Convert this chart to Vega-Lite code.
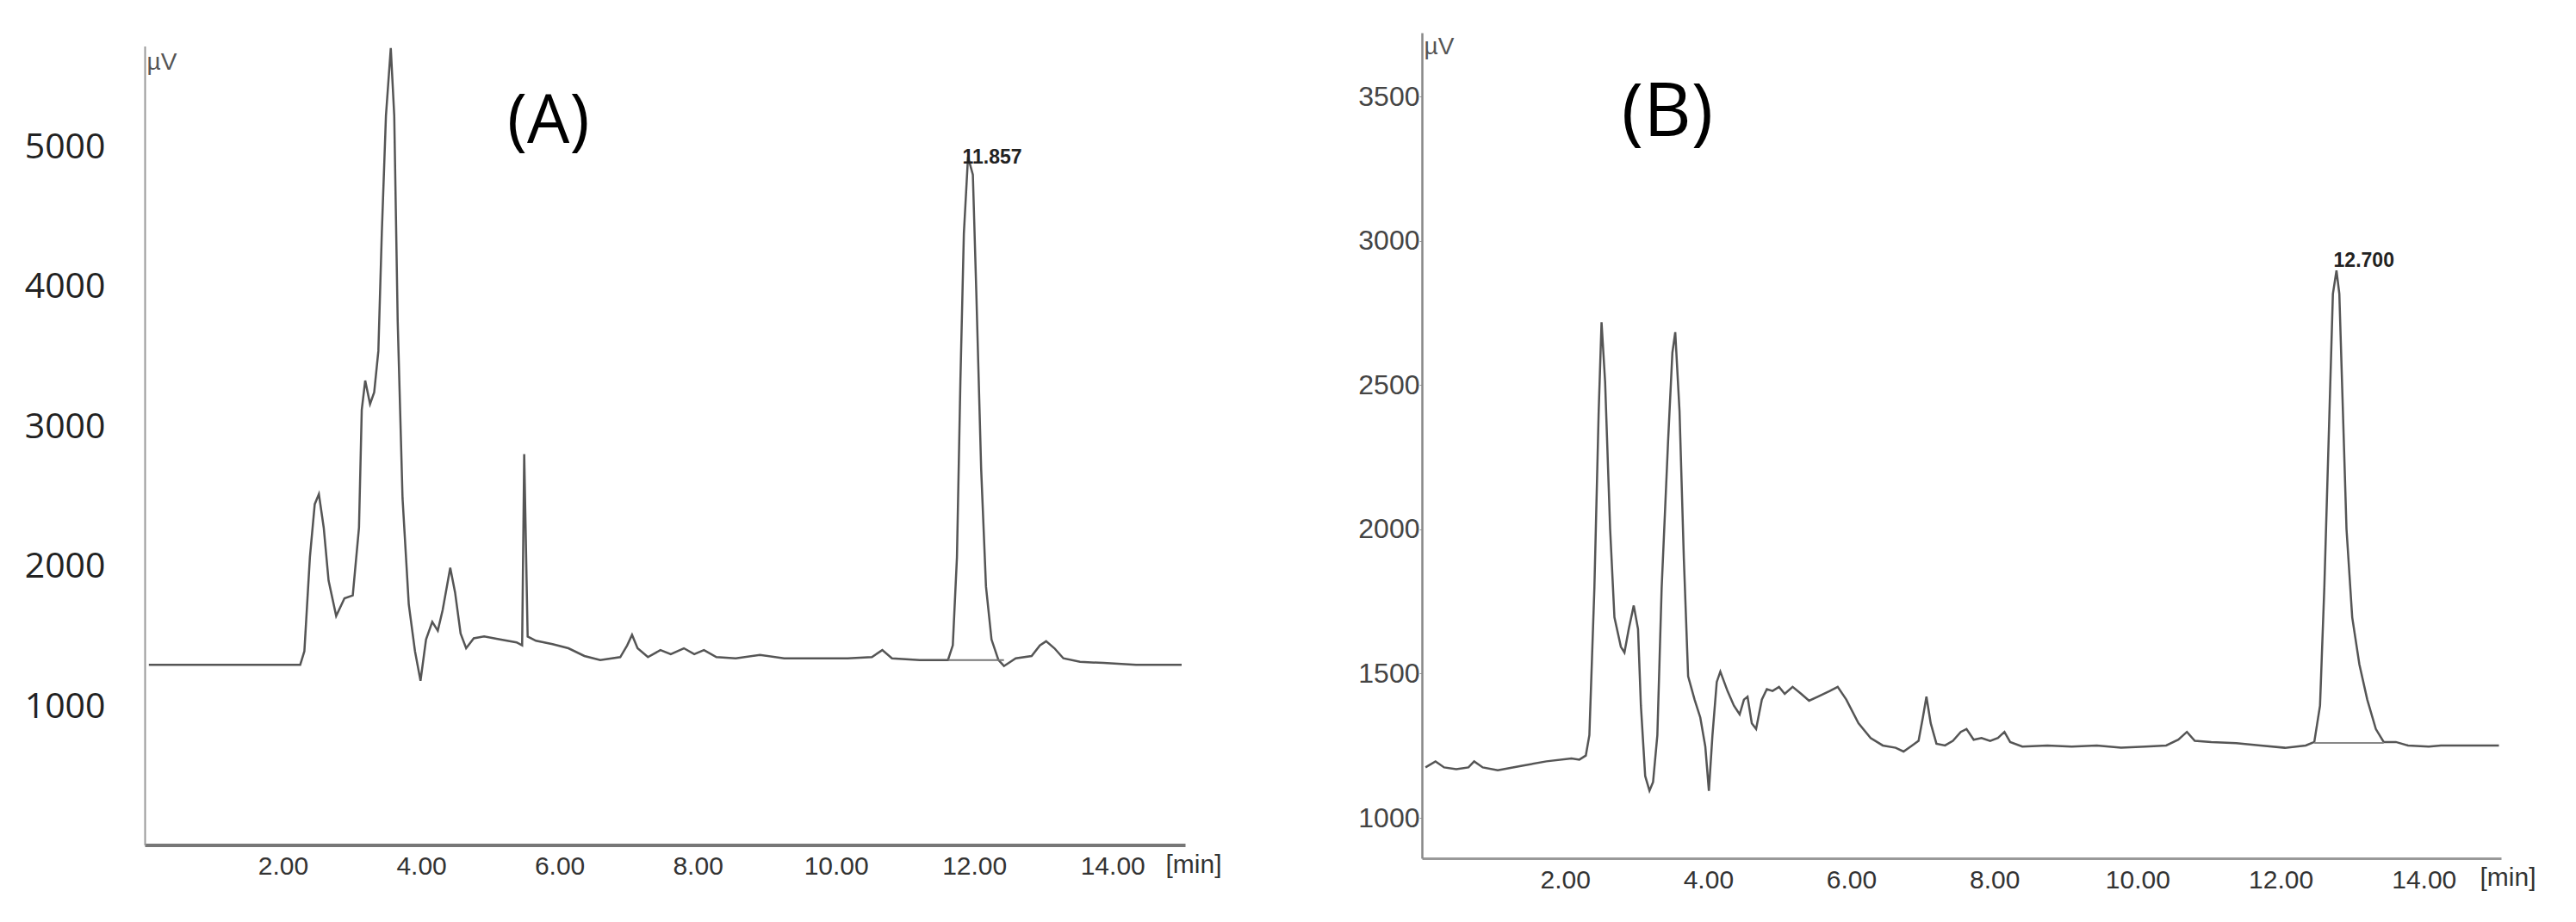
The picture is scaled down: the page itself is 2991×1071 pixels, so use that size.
{
  "$schema": "https://vega.github.io/schema/vega-lite/v6.json",
  "background": "white",
  "padding": {"left": 28, "top": 38, "right": 10, "bottom": 20},
  "bounds": "flush",
  "center": true,
  "spacing": 275,
  "config": {
    "view": {"stroke": null},
    "axis": {"grid": false, "labelOverlap": false, "labelFlush": false}
  },
  "hconcat": [
    {
      "width": 1208,
      "height": 928,
      "layer": [
        {
          "data": {"values": [
            {"time":0.06,"signal":1303},{"time":2.25,"signal":1303},{"time":2.31,"signal":1400},{"time":2.39,"signal":2073},{"time":2.46,"signal":2451},{"time":2.52,"signal":2523},{"time":2.59,"signal":2283},{"time":2.66,"signal":1905},{"time":2.77,"signal":1652},{"time":2.89,"signal":1778},{"time":3.01,"signal":1799},{"time":3.10,"signal":2283},{"time":3.14,"signal":3125},{"time":3.19,"signal":3335},{"time":3.26,"signal":3167},{"time":3.32,"signal":3251},{"time":3.38,"signal":3545},{"time":3.43,"signal":4387},{"time":3.49,"signal":5228},{"time":3.56,"signal":5712},{"time":3.61,"signal":5228},{"time":3.66,"signal":3756},{"time":3.73,"signal":2494},{"time":3.82,"signal":1736},{"time":3.91,"signal":1400},{"time":3.99,"signal":1189},{"time":4.07,"signal":1484},{"time":4.16,"signal":1610},{"time":4.24,"signal":1547},{"time":4.31,"signal":1694},{"time":4.42,"signal":1997},{"time":4.49,"signal":1820},{"time":4.57,"signal":1526},{"time":4.65,"signal":1421},{"time":4.76,"signal":1492},{"time":4.91,"signal":1505},{"time":5.14,"signal":1484},{"time":5.38,"signal":1463},{"time":5.46,"signal":1442},{"time":5.49,"signal":2809},{"time":5.54,"signal":1505},{"time":5.66,"signal":1475},{"time":5.90,"signal":1450},{"time":6.13,"signal":1421},{"time":6.36,"signal":1366},{"time":6.59,"signal":1337},{"time":6.88,"signal":1358},{"time":6.98,"signal":1442},{"time":7.05,"signal":1517},{"time":7.13,"signal":1421},{"time":7.28,"signal":1358},{"time":7.46,"signal":1408},{"time":7.61,"signal":1379},{"time":7.80,"signal":1421},{"time":7.95,"signal":1379},{"time":8.09,"signal":1408},{"time":8.27,"signal":1358},{"time":8.55,"signal":1349},{"time":8.90,"signal":1374},{"time":9.25,"signal":1349},{"time":9.71,"signal":1349},{"time":10.17,"signal":1349},{"time":10.52,"signal":1358},{"time":10.67,"signal":1408},{"time":10.81,"signal":1349},{"time":11.21,"signal":1337},{"time":11.62,"signal":1337},{"time":11.69,"signal":1442},{"time":11.75,"signal":2073},{"time":11.80,"signal":3335},{"time":11.85,"signal":4387},{"time":11.91,"signal":4933},{"time":11.98,"signal":4807},{"time":12.03,"signal":3966},{"time":12.10,"signal":2704},{"time":12.17,"signal":1862},{"time":12.25,"signal":1484},{"time":12.35,"signal":1337},{"time":12.43,"signal":1294},{"time":12.60,"signal":1349},{"time":12.83,"signal":1366},{"time":12.95,"signal":1442},{"time":13.04,"signal":1471},{"time":13.16,"signal":1421},{"time":13.29,"signal":1349},{"time":13.53,"signal":1324},{"time":13.87,"signal":1316},{"time":14.34,"signal":1303},{"time":15.0,"signal":1303}
          ]},
          "mark": {"type": "line", "color": "#555555", "strokeWidth": 2.5, "clip": true},
          "encoding": {
            "x": {"field": "time", "type": "quantitative", "scale": {"domain": [0, 15.05], "nice": false, "zero": false},
              "axis": {"values": [2,4,6,8,10,12,14], "format": ".2f", "ticks": false, "labelFont": "Liberation Sans", "labelFontSize": 30, "labelColor": "#333333", "labelBaseline": "top", "labelPadding": 10, "labelDx": 12, "domainColor": "#777777", "domainWidth": 4,
                "title": "[min]", "titleX": 1185, "titleY": 32, "titleAlign": "left", "titleBaseline": "alphabetic", "titleFont": "Liberation Sans", "titleFontSize": 30, "titleFontWeight": "normal", "titleColor": "#333333"}},
            "y": {"field": "signal", "type": "quantitative", "scale": {"domain": [15, 5726], "nice": false, "zero": false},
              "axis": {"values": [1000,2000,3000,4000,5000], "format": "d", "ticks": false, "labelFont": "Open Sans", "labelFontSize": 41, "labelColor": "#222222", "labelPadding": 46, "domainColor": "#999999", "domainWidth": 2,
                "title": "µV", "titleAngle": 0, "titleX": 2, "titleY": 5, "titleAlign": "left", "titleBaseline": "top", "titleFont": "Liberation Sans", "titleFontSize": 28, "titleFontWeight": "normal", "titleColor": "#555555"}}
          }
        },
        {
          "data": {"values": [{"time": 11.62, "signal": 1337}, {"time": 12.43, "signal": 1337}]},
          "mark": {"type": "line", "color": "#777777", "strokeWidth": 2},
          "encoding": {"x": {"field": "time", "type": "quantitative"}, "y": {"field": "signal", "type": "quantitative"}}
        },
        {
          "data": {"values": [{"time": 11.83, "signal": 4883, "label": "11.857"}]},
          "mark": {"type": "text", "align": "left", "baseline": "alphabetic", "font": "Liberation Sans", "fontSize": 23, "fontWeight": "bold", "color": "#222222"},
          "encoding": {"x": {"field": "time", "type": "quantitative"}, "y": {"field": "signal", "type": "quantitative"}, "text": {"field": "label"}}
        },
        {
          "data": {"values": [{"time": 5.84, "signal": 5178, "label": "(A)"}]},
          "mark": {"type": "text", "align": "center", "baseline": "middle", "font": "Open Sans", "fontSize": 78, "color": "#000000"},
          "encoding": {"x": {"field": "time", "type": "quantitative"}, "y": {"field": "signal", "type": "quantitative"}, "text": {"field": "label"}}
        }
      ]
    },
    {
      "width": 1253,
      "height": 959,
      "layer": [
        {
          "data": {"values": [
            {"time":0.05,"signal":1175},{"time":0.19,"signal":1196},{"time":0.31,"signal":1175},{"time":0.48,"signal":1169},{"time":0.65,"signal":1175},{"time":0.73,"signal":1196},{"time":0.85,"signal":1175},{"time":1.06,"signal":1165},{"time":1.40,"signal":1181},{"time":1.74,"signal":1196},{"time":2.09,"signal":1206},{"time":2.20,"signal":1202},{"time":2.29,"signal":1216},{"time":2.34,"signal":1287},{"time":2.41,"signal":1797},{"time":2.47,"signal":2408},{"time":2.51,"signal":2718},{"time":2.56,"signal":2510},{"time":2.63,"signal":2001},{"time":2.69,"signal":1695},{"time":2.78,"signal":1593},{"time":2.83,"signal":1573},{"time":2.89,"signal":1654},{"time":2.96,"signal":1736},{"time":3.02,"signal":1654},{"time":3.06,"signal":1389},{"time":3.12,"signal":1145},{"time":3.18,"signal":1094},{"time":3.23,"signal":1124},{"time":3.29,"signal":1287},{"time":3.35,"signal":1797},{"time":3.44,"signal":2306},{"time":3.50,"signal":2612},{"time":3.54,"signal":2683},{"time":3.60,"signal":2408},{"time":3.66,"signal":1899},{"time":3.72,"signal":1491},{"time":3.81,"signal":1410},{"time":3.89,"signal":1348},{"time":3.96,"signal":1247},{"time":4.01,"signal":1094},{"time":4.06,"signal":1287},{"time":4.12,"signal":1471},{"time":4.17,"signal":1507},{"time":4.27,"signal":1440},{"time":4.36,"signal":1389},{"time":4.44,"signal":1359},{"time":4.50,"signal":1410},{"time":4.55,"signal":1420},{"time":4.61,"signal":1328},{"time":4.67,"signal":1308},{"time":4.75,"signal":1410},{"time":4.82,"signal":1446},{"time":4.90,"signal":1440},{"time":4.99,"signal":1454},{"time":5.07,"signal":1430},{"time":5.18,"signal":1454},{"time":5.30,"signal":1430},{"time":5.41,"signal":1406},{"time":5.53,"signal":1420},{"time":5.70,"signal":1440},{"time":5.81,"signal":1454},{"time":5.93,"signal":1410},{"time":6.10,"signal":1328},{"time":6.27,"signal":1277},{"time":6.44,"signal":1251},{"time":6.62,"signal":1243},{"time":6.73,"signal":1230},{"time":6.85,"signal":1251},{"time":6.94,"signal":1267},{"time":7.00,"signal":1348},{"time":7.05,"signal":1420},{"time":7.11,"signal":1328},{"time":7.19,"signal":1257},{"time":7.31,"signal":1251},{"time":7.42,"signal":1267},{"time":7.53,"signal":1298},{"time":7.61,"signal":1308},{"time":7.71,"signal":1271},{"time":7.82,"signal":1277},{"time":7.94,"signal":1267},{"time":8.05,"signal":1277},{"time":8.14,"signal":1298},{"time":8.22,"signal":1263},{"time":8.39,"signal":1247},{"time":8.74,"signal":1251},{"time":9.08,"signal":1247},{"time":9.43,"signal":1251},{"time":9.77,"signal":1243},{"time":10.11,"signal":1247},{"time":10.40,"signal":1251},{"time":10.57,"signal":1271},{"time":10.69,"signal":1298},{"time":10.80,"signal":1267},{"time":11.03,"signal":1263},{"time":11.38,"signal":1259},{"time":11.72,"signal":1251},{"time":12.06,"signal":1243},{"time":12.35,"signal":1251},{"time":12.47,"signal":1263},{"time":12.55,"signal":1389},{"time":12.61,"signal":1797},{"time":12.67,"signal":2306},{"time":12.73,"signal":2816},{"time":12.78,"signal":2897},{"time":12.82,"signal":2816},{"time":12.87,"signal":2408},{"time":12.92,"signal":2001},{"time":13.00,"signal":1695},{"time":13.10,"signal":1532},{"time":13.21,"signal":1410},{"time":13.33,"signal":1308},{"time":13.44,"signal":1263},{"time":13.61,"signal":1263},{"time":13.78,"signal":1251},{"time":14.07,"signal":1247},{"time":14.24,"signal":1251},{"time":14.70,"signal":1251},{"time":15.05,"signal":1251}
          ]},
          "mark": {"type": "line", "color": "#555555", "strokeWidth": 2.5, "clip": true},
          "encoding": {
            "x": {"field": "time", "type": "quantitative", "scale": {"domain": [0, 15.08], "nice": false, "zero": false},
              "axis": {"values": [2,4,6,8,10,12,14], "format": ".2f", "ticks": false, "labelFont": "Liberation Sans", "labelFontSize": 30, "labelColor": "#333333", "labelBaseline": "top", "labelPadding": 10, "labelDx": 14, "domainColor": "#999999", "domainWidth": 3,
                "title": "[min]", "titleX": 1228, "titleY": 31, "titleAlign": "left", "titleBaseline": "alphabetic", "titleFont": "Liberation Sans", "titleFontSize": 30, "titleFontWeight": "normal", "titleColor": "#333333"}},
            "y": {"field": "signal", "type": "quantitative", "scale": {"domain": [860, 3721], "nice": false, "zero": false},
              "axis": {"values": [1000,1500,2000,2500,3000,3500], "format": "d", "ticks": true, "tickSize": 3, "tickColor": "#999999", "labelFont": "Liberation Sans", "labelFontSize": 32, "labelColor": "#444444", "labelPadding": 0, "domainColor": "#888888", "domainWidth": 2.5,
                "title": "µV", "titleAngle": 0, "titleX": 2, "titleY": 2, "titleAlign": "left", "titleBaseline": "top", "titleFont": "Liberation Sans", "titleFontSize": 28, "titleFontWeight": "normal", "titleColor": "#555555"}}
          }
        },
        {
          "data": {"values": [{"time": 12.47, "signal": 1260}, {"time": 13.44, "signal": 1260}]},
          "mark": {"type": "line", "color": "#888888", "strokeWidth": 2},
          "encoding": {"x": {"field": "time", "type": "quantitative"}, "y": {"field": "signal", "type": "quantitative"}}
        },
        {
          "data": {"values": [{"time": 12.74, "signal": 2909, "label": "12.700"}]},
          "mark": {"type": "text", "align": "left", "baseline": "alphabetic", "font": "Liberation Sans", "fontSize": 23, "fontWeight": "bold", "color": "#222222"},
          "encoding": {"x": {"field": "time", "type": "quantitative"}, "y": {"field": "signal", "type": "quantitative"}, "text": {"field": "label"}}
        },
        {
          "data": {"values": [{"time": 3.43, "signal": 3440, "label": "(B)"}]},
          "mark": {"type": "text", "align": "center", "baseline": "middle", "font": "Open Sans", "fontSize": 86, "color": "#000000"},
          "encoding": {"x": {"field": "time", "type": "quantitative"}, "y": {"field": "signal", "type": "quantitative"}, "text": {"field": "label"}}
        }
      ]
    }
  ]
}
